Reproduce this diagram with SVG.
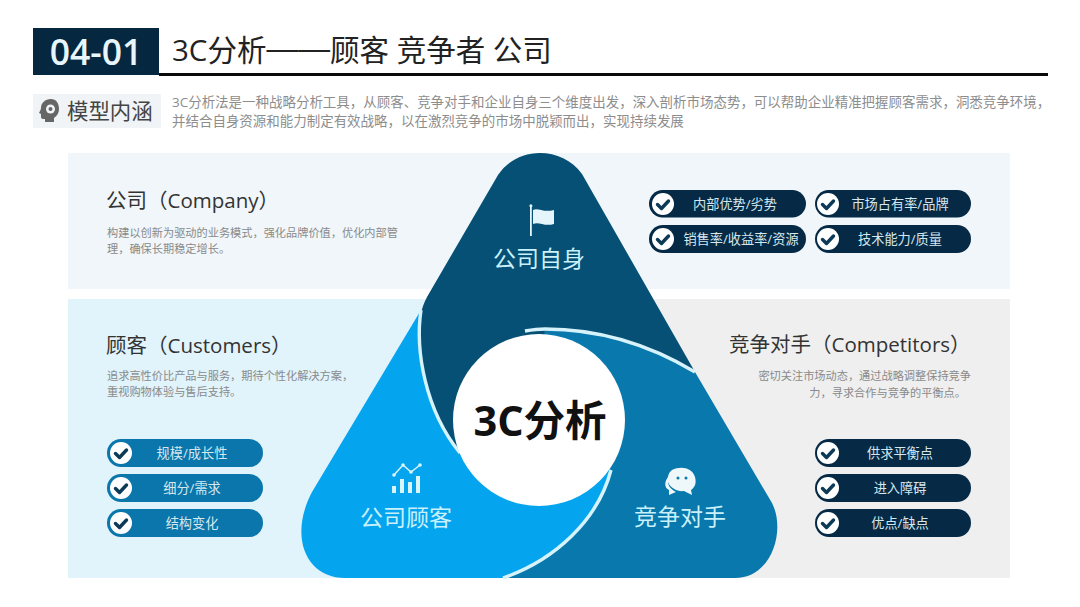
<svg xmlns="http://www.w3.org/2000/svg" width="1080" height="607" viewBox="0 0 1080 607">
<style>
text{font-family:"Open Sans","Noto Sans CJK SC",sans-serif}
.h{font-size:20.5px;fill:#333}
.d{font-size:11.2px;fill:#8a8a8a}
.n{font-size:23px;fill:#c9f1fb;text-anchor:middle}
.p{font-size:13.2px;fill:#d5e8ef;text-anchor:middle}
.sep{fill:none;stroke:#d6f3fb;stroke-width:3.4;stroke-linecap:butt}
.dk{fill:#062a45}
.bl{fill:#0a76ab}
</style>
<defs>
<g id="chk"><circle r="11" fill="#fff"/><path d="M-5.500 0.500L-1.500 4.500L5.500 -3" fill="none" stroke="#0d3a56" stroke-width="3.400" stroke-linecap="round" stroke-linejoin="round"/></g>
</defs>
<rect width="1080" height="607" fill="#fff"/>
<g id="header">
<rect x="33" y="28" width="126" height="47" fill="#05273f"/>
<rect x="159" y="73" width="889" height="3" fill="#0a0a0a"/>
<text x="96" y="65" font-size="35.500" font-weight="600" fill="#e8f6fb" text-anchor="middle">04-01</text>
<text x="172" y="61" font-size="29.500" fill="#222">3C分析<tspan dy="-2" font-family="Liberation Sans" font-size="31.800">——</tspan><tspan dy="2">顾客 竞争者 公司</tspan></text>
</g>
<g id="intro">
<rect x="33" y="94" width="128" height="34" fill="#f0f4f6"/>
<path d="M51 99c-6 0-10 4-10 9 0 1-.5 2-1 3l-1 2 2 1v3c0 1 1 2 2 2h2v3h9v-4c3-2 5-5 5-9 0-6-3-10-8-10z" fill="#666"/>
<circle cx="50.500" cy="109" r="4.500" fill="#f0f4f6"/><circle cx="50.500" cy="109" r="2" fill="#666"/>
<text x="67" y="119" font-size="21.400" fill="#444">模型内涵</text>
<text x="172" y="107" font-size="13.480" fill="#8d8d8d">3C分析法是一种战略分析工具，从顾客、竞争对手和企业自身三个维度出发，深入剖析市场态势，可以帮助企业精准把握顾客需求，洞悉竞争环境，</text>
<text x="172" y="126" font-size="13.480" fill="#8d8d8d">并结合自身资源和能力制定有效战略，以在激烈竞争的市场中脱颖而出，实现持续发展</text>
</g>
<g id="panels">
<rect x="68" y="153" width="942" height="136" fill="#f0f6f9"/>
<rect x="68" y="299" width="360" height="279" fill="#e1f3fb"/>
<rect x="428" y="299" width="582" height="279" fill="#efefef"/>
</g>
<g id="node-competitors">
<path d="M503 578C555 560 598 520 611 470L520 420L545 329C600 329 650 345 695 372L772 503C786 530 772 578 735 578Z" fill="#0878ad"/>
<text class="n" x="680" y="525">竞争对手</text>
<path d="M672 470C680 466 692 467 695 477C697 484 694 488 691 490L692 495L684 491C678 492 670 488 668 482C667 477 669 472 672 470Z" fill="#eef8fb"/>
<path d="M669 476C664 481 664 488 669 490L669 495L676 492C670 489 666 484 669 476Z" fill="#eef8fb"/>
<circle cx="678" cy="478" r="1.500" fill="#0878ad"/><circle cx="686" cy="478" r="1.500" fill="#0878ad"/>
<text class="h" x="729" y="352">竞争对手（Competitors）</text>
<text class="d" x="971" y="380" text-anchor="end">密切关注市场动态，通过战略调整保持竞争</text>
<text class="d" x="966" y="397" text-anchor="end">力，寻求合作与竞争的平衡点。</text>
</g>
<g id="node-company">
<path d="M427 297L498 175C508 160 524 153 540 153C556 153 572 160 582 174L695 372C650 345 600 329 545 329L539 380L460 453C436 425 421 390 419 345C418 325 420 310 427 297Z" fill="#064f75"/>
<text class="n" x="539" y="267">公司自身</text>
<path d="M530 207a1.500 1.500 0 1 1 1.800 0V236H530Z" fill="#e4f6fb"/>
<path d="M533 210C538 207 543 213 554 210V224C544 227 539 221 533 224Z" fill="#e4f6fb"/>
<text class="h" x="106" y="208">公司（Company）</text>
<text class="d" x="107" y="237">构建以创新为驱动的业务模式，强化品牌价值，优化内部管</text>
<text class="d" x="107" y="253">理，确保长期稳定增长。</text>
</g>
<g id="node-customers">
<path d="M421 310C415 350 425 410 460 453L539 420L611 470C598 520 555 560 503 578H345C307 578 288 538 312 492Z" fill="#04a4ee"/>
<text class="n" x="406" y="526">公司顾客</text>
<g fill="#d9f4fb"><rect x="392" y="486" width="4" height="7"/><rect x="400" y="479" width="4" height="14"/><rect x="408" y="482" width="4" height="11"/><rect x="416" y="476" width="4" height="17"/></g>
<path d="M394 475L403 465L411 472L420 465" fill="none" stroke="#d9f4fb" stroke-width="1.500"/>
<g fill="#d9f4fb"><circle cx="394" cy="475" r="1.800"/><circle cx="403" cy="465" r="1.800"/><circle cx="411" cy="472" r="1.800"/><circle cx="420" cy="465" r="1.800"/></g>
<text class="h" x="106" y="353">顾客（Customers）</text>
<text class="d" x="107" y="380">追求高性价比产品与服务，期待个性化解决方案，</text>
<text class="d" x="107" y="396">重视购物体验与售后支持。</text>
</g>
<g id="connectors">
<path class="sep" d="M421 310C415 350 425 410 460 453"/>
<path class="sep" d="M503 578C555 560 598 520 611 470"/>
<path class="sep" d="M695 372C650 345 600 329 545 329C537 329 531 330 525 331"/>
</g>
<g id="node-center">
<circle cx="539" cy="420" r="86" fill="#fff"/>
<text x="540" y="436" font-size="41.500" font-weight="700" fill="#111" text-anchor="middle">3C分析</text>
</g>
<g id="pills-company">
<rect class="dk" x="649" y="190" width="157" height="27.500" rx="13.700"/><use href="#chk" x="663" y="204"/><text class="p" x="735" y="209">内部优势/劣势</text>
<rect class="dk" x="815" y="190" width="156" height="27.500" rx="13.700"/><use href="#chk" x="828" y="204"/><text class="p" x="900" y="209">市场占有率/品牌</text>
<rect class="dk" x="649" y="225" width="157" height="28" rx="14"/><use href="#chk" x="663" y="239"/><text class="p" x="741" y="244">销售率/收益率/资源</text>
<rect class="dk" x="815" y="225" width="156" height="28" rx="14"/><use href="#chk" x="828" y="239"/><text class="p" x="900" y="244">技术能力/质量</text>
</g>
<g id="pills-customers">
<rect class="bl" x="107" y="439" width="156" height="28" rx="14"/><use href="#chk" x="121" y="453"/><text class="p" x="192" y="458">规模/成长性</text>
<rect class="bl" x="107" y="474" width="156" height="28" rx="14"/><use href="#chk" x="121" y="488"/><text class="p" x="192" y="493">细分/需求</text>
<rect class="bl" x="107" y="509" width="156" height="28" rx="14"/><use href="#chk" x="121" y="523"/><text class="p" x="192" y="528">结构变化</text>
</g>
<g id="pills-competitors">
<rect class="dk" x="815" y="439" width="156" height="28" rx="14"/><use href="#chk" x="828" y="453"/><text class="p" x="900" y="458">供求平衡点</text>
<rect class="dk" x="815" y="474" width="156" height="28" rx="14"/><use href="#chk" x="828" y="488"/><text class="p" x="900" y="493">进入障碍</text>
<rect class="dk" x="815" y="509" width="156" height="28" rx="14"/><use href="#chk" x="828" y="523"/><text class="p" x="900" y="528">优点/缺点</text>
</g>
</svg>
